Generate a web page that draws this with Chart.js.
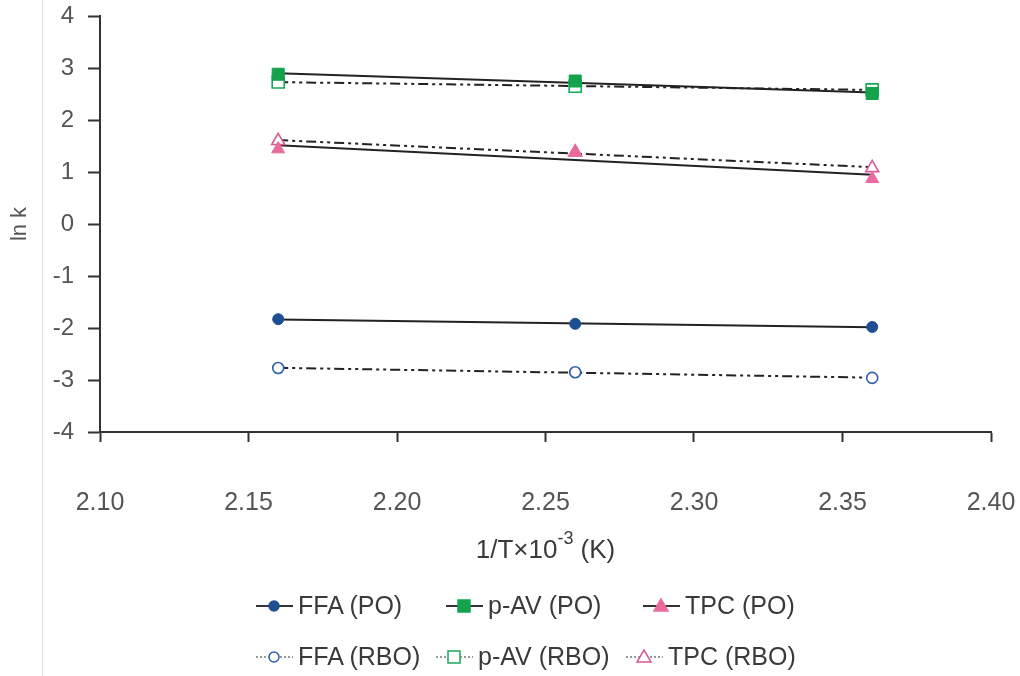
<!DOCTYPE html>
<html>
<head>
<meta charset="utf-8">
<script src="https://cdn.jsdelivr.net/npm/chart.js@4/dist/chart.umd.min.js"></script>
<style>
  html, body { margin: 0; padding: 0; background: #fff; }
  #wrap { position: relative; width: 1020px; height: 676px; overflow: hidden; }
  #edge { position: absolute; left: 42px; top: 0; width: 1px; height: 676px; background: #dcdcdc; }
  .lg { position: absolute; display: flex; align-items: center; font-family: "Liberation Sans", Arial, sans-serif; font-size: 25px; color: #3a3a3a; white-space: nowrap; }
  .lg canvas { margin-right: 3px; }
</style>
</head>
<body>
<div id="wrap">
  <canvas id="chart" width="1020" height="676"></canvas>
  <div id="edge"></div>
  <div id="legend"></div>
</div>
<script>
// 1/T x 10^-3 values
const temps = [2.16, 2.26, 2.36];

// ln k values per series
const ffaPO = [-1.83, -1.92, -1.98];
const pavPO = [2.88, 2.75, 2.51];
const tpcPO = [1.44, 1.38, 0.87];
const ffaRBO = [-2.77, -2.85, -2.96];
const pavRBO = [2.73, 2.65, 2.58];
const tpcRBO = [1.60, 1.38, 1.08];

const xTicks = [2.10, 2.15, 2.20, 2.25, 2.30, 2.35, 2.40];
const yTicks = [-4, -3, -2, -1, 0, 1, 2, 3, 4];

const FONT = '"Liberation Sans", Arial, sans-serif';
const DASH = [10, 4, 3, 4, 3, 4];

const series = [
    { label: 'FFA (PO)', values: ffaPO, color: '#1d4f92', fill: true, style: 'circle', r: 5.5 },
    { label: 'p-AV (PO)', values: pavPO, color: '#14a24c', fill: true, style: 'rect', r: 8.5 },
    { label: 'TPC (PO)', values: tpcPO, color: '#ea6a9e', fill: true, style: 'triangle', r: 7.5 },
    { label: 'FFA (RBO)', values: ffaRBO, color: '#2e5fb0', fill: false, style: 'circle', r: 5.5 },
    { label: 'p-AV (RBO)', values: pavRBO, color: '#18a85a', fill: false, style: 'rect', r: 8.5 },
    { label: 'TPC (RBO)', values: tpcRBO, color: '#d95b95', fill: false, style: 'triangle', r: 7.5 }
];

// least squares trend line through the points of a series
function trend(values) {
    const n = temps.length;
    const mx = temps.reduce((a, b) => a + b, 0) / n;
    const my = values.reduce((a, b) => a + b, 0) / n;
    let sxy = 0, sxx = 0;
    for (let i = 0; i < n; i++) {
        sxy += (temps[i] - mx) * (values[i] - my);
        sxx += (temps[i] - mx) * (temps[i] - mx);
    }
    const slope = sxy / sxx;
    const x0 = temps[0], x1 = temps[n - 1];
    return [{ x: x0, y: my + slope * (x0 - mx) }, { x: x1, y: my + slope * (x1 - mx) }];
}

const datasets = [];
series.forEach(s => {
    datasets.push({
        type: 'line',
        label: s.label + ' trend',
        data: trend(s.values),
        borderColor: '#222',
        borderWidth: 2,
        borderDash: s.fill ? [] : DASH,
        pointRadius: 0,
        order: 2
    });
});
series.forEach(s => {
    datasets.push({
        type: 'scatter',
        label: s.label,
        data: temps.map((x, i) => ({ x: x, y: s.values[i] })),
        pointStyle: s.style,
        pointRadius: s.r,
        pointHoverRadius: s.r,
        pointBorderWidth: s.fill ? 1 : 1.6,
        pointBorderColor: s.color,
        pointBackgroundColor: s.fill ? s.color : '#fff',
        showLine: false,
        order: 1
    });
});

// x axis title with a raised exponent
const xTitle = {
    id: 'xTitle',
    afterDraw(chart) {
        const ctx = chart.ctx;
        const x = chart.scales.x;
        const parts = [['1/T×10', 26, 0], ['-3', 18, -14], [' (K)', 26, 0]];
        ctx.save();
        ctx.fillStyle = '#3a3a3a';
        ctx.textBaseline = 'alphabetic';
        ctx.textAlign = 'left';
        let total = 0;
        parts.forEach(p => { ctx.font = p[1] + 'px ' + FONT; total += ctx.measureText(p[0]).width; });
        let cx = (x.left + x.right) / 2 - total / 2;
        parts.forEach(p => {
            ctx.font = p[1] + 'px ' + FONT;
            ctx.fillText(p[0], cx, 558 + p[2]);
            cx += ctx.measureText(p[0]).width;
        });
        ctx.restore();
    }
};

new Chart(document.getElementById('chart'), {
    data: { datasets: datasets },
    plugins: [xTitle],
    options: {
        responsive: false,
        animation: false,
        layout: { padding: { top: 16, right: 29, bottom: 110, left: 0 } },
        plugins: { legend: { display: false }, tooltip: { enabled: false } },
        scales: {
            x: {
                type: 'linear',
                min: 2.10,
                max: 2.40,
                afterBuildTicks: scale => { scale.ticks = xTicks.map(v => ({ value: v })); },
                afterFit: scale => {
                    scale.height = 134;
                    scale.paddingLeft = 0;
                    scale.paddingRight = 0;
                },
                grid: { drawOnChartArea: false, drawTicks: true, tickLength: 10, tickColor: '#333', tickWidth: 2 },
                border: { display: true, color: '#333', width: 2 },
                ticks: {
                    padding: 46,
                    color: '#555',
                    font: { family: FONT, size: 25 },
                    callback: v => Number(v).toFixed(2)
                }
            },
            y: {
                type: 'linear',
                min: -4,
                max: 4,
                afterBuildTicks: scale => { scale.ticks = yTicks.map(v => ({ value: v })); },
                afterFit: scale => {
                    scale.width = 100;
                    scale.paddingTop = 0;
                    scale.paddingBottom = 0;
                },
                grid: { drawOnChartArea: false, drawTicks: true, tickLength: 12, tickColor: '#333', tickWidth: 2 },
                border: { display: true, color: '#333', width: 2 },
                ticks: {
                    padding: 14,
                    color: '#555',
                    font: { family: FONT, size: 24 }
                },
                title: {
                    display: true,
                    text: 'ln k',
                    color: '#555',
                    font: { family: FONT, size: 22 },
                    padding: { top: 7, bottom: 4 }
                }
            }
        }
    }
});

// legend: line with marker, in two rows
const legendPos = [
    { left: 254, top: 591 }, { left: 444, top: 591 }, { left: 641, top: 591 },
    { left: 254, top: 642 }, { left: 434, top: 642 }, { left: 624, top: 642 }
];

function drawIcon(cv, s) {
    const ctx = cv.getContext('2d');
    ctx.strokeStyle = '#333';
    ctx.lineWidth = s.fill ? 2 : 1;
    ctx.setLineDash(s.fill ? [] : [2, 2]);
    ctx.beginPath();
    ctx.moveTo(2, 14);
    ctx.lineTo(39, 14);
    ctx.stroke();
    ctx.setLineDash([]);
    ctx.fillStyle = s.fill ? s.color : '#fff';
    ctx.strokeStyle = s.color;
    ctx.lineWidth = 1.5;
    ctx.beginPath();
    if (s.style === 'circle') {
        ctx.arc(20, 14, 5, 0, Math.PI * 2);
    } else if (s.style === 'rect') {
        ctx.rect(14, 8, 12, 12);
    } else {
        ctx.moveTo(20, 7);
        ctx.lineTo(27, 19);
        ctx.lineTo(13, 19);
        ctx.closePath();
    }
    ctx.fill();
    ctx.stroke();
}

const legendEl = document.getElementById('legend');
series.forEach((s, i) => {
    const item = document.createElement('div');
    item.className = 'lg';
    item.style.left = legendPos[i].left + 'px';
    item.style.top = legendPos[i].top + 'px';
    const cv = document.createElement('canvas');
    cv.width = 41;
    cv.height = 28;
    drawIcon(cv, s);
    item.appendChild(cv);
    const txt = document.createElement('span');
    txt.textContent = s.label;
    item.appendChild(txt);
    legendEl.appendChild(item);
});
</script>
</body>
</html>
